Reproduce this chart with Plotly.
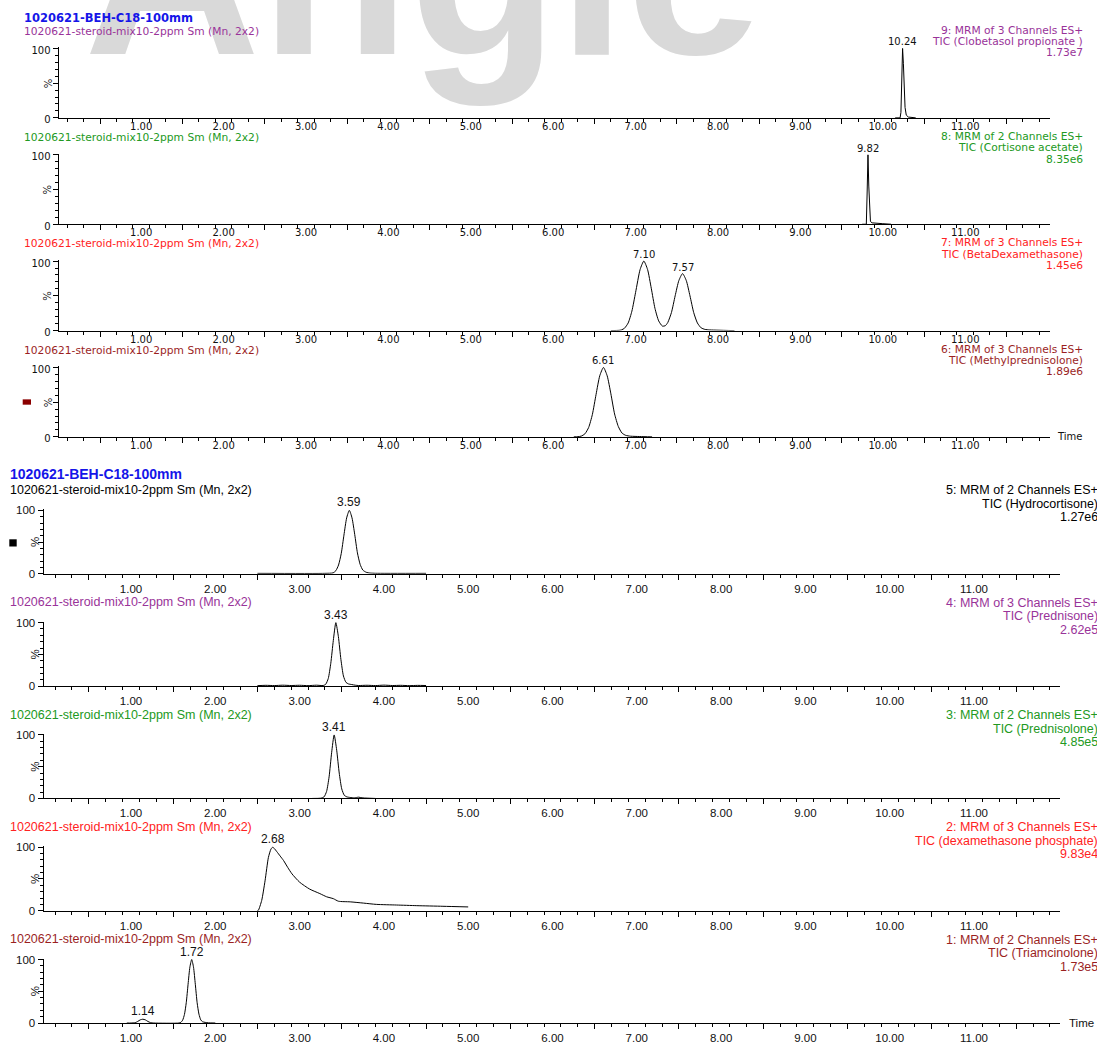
import plotly.graph_objects as go

W, H = 1097, 1049

# ---------------------------------------------------------------- data
RUN_TITLE = "1020621-BEH-C18-100mm"
SAMPLE_NAME = "1020621-steroid-mix10-2ppm Sm (Mn, 2x2)"
WATERMARK = "Angie"

TIME_TICKS = [1, 2, 3, 4, 5, 6, 7, 8, 9, 10, 11]
TIME_TICK_LABELS = ["1.00", "2.00", "3.00", "4.00", "5.00", "6.00",
                    "7.00", "8.00", "9.00", "10.00", "11.00"]
PCT_TICKS = [0, 50, 100]
PCT_TICK_LABELS = ["0", "", "100"]
PCT_MINOR_TICKS = [10, 20, 30, 40, 60, 70, 80, 90]

# 9: Clobetasol propionate
CH9_TIME = [10.15, 10.21, 10.22, 10.23, 10.24, 10.25, 10.26, 10.27, 10.285, 10.31, 10.40]
CH9_INT = [0, 0, 8, 55, 100, 78, 42, 15, 4, 1.2, 0]
CH9_PEAKS = [10.24]
CH9_INFO = ["9: MRM of 3 Channels ES+", "TIC (Clobetasol propionate )", "1.73e7"]

# 8: Cortisone acetate
CH8_TIME = [9.75, 9.80, 9.81, 9.82, 9.83, 9.84, 9.85, 9.87, 9.92, 10.00, 10.10]
CH8_INT = [0, 0, 45, 100, 55, 12, 4, 2, 1.2, 0.8, 0]
CH8_PEAKS = [9.82]
CH8_INFO = ["8: MRM of 2 Channels ES+", "TIC (Cortisone acetate)", "8.35e6"]

# 7: Betamethasone / Dexamethasone
CH7_TIME = [6.70, 6.80, 6.83, 6.865, 6.91, 6.955, 7.00, 7.055, 7.10, 7.145, 7.19, 7.235,
            7.28, 7.325, 7.36, 7.39, 7.435, 7.48, 7.525, 7.57, 7.615, 7.66, 7.705, 7.75,
            7.795, 7.84, 7.90, 8.00, 8.20]
CH7_INT = [0, 0.4, 1.1, 3.4, 11, 28, 55, 88, 100, 88, 61, 32,
           14, 6.5, 7, 11.5, 26, 50, 72, 82, 72, 50, 26, 11,
           4, 1.8, 1.0, 0.6, 0]
CH7_PEAKS = [7.10, 7.57]
CH7_INFO = ["7: MRM of 3 Channels ES+", "TIC (BetaDexamethasone)", "1.45e6"]

# 6: Methylprednisolone
CH6_TIME = [6.25, 6.30, 6.34, 6.385, 6.43, 6.475, 6.52, 6.565, 6.61, 6.655, 6.70, 6.745,
            6.79, 6.835, 6.88, 6.94, 7.05, 7.20]
CH6_INT = [0, 0.3, 1.1, 4.4, 13.5, 32, 61, 88, 100, 88, 62, 33,
           15, 5.5, 2.2, 1.0, 0.5, 0]
CH6_PEAKS = [6.61]
CH6_INFO = ["6: MRM of 3 Channels ES+", "TIC (Methylprednisolone)", "1.89e6"]

# 5: Hydrocortisone
CH5_TIME = [2.50, 3.30, 3.398, 3.43, 3.462, 3.494, 3.526, 3.558, 3.59, 3.622, 3.654,
            3.686, 3.718, 3.75, 3.79, 3.84, 3.90, 4.50]
CH5_INT = [0.8, 0.8, 1.6, 5, 14, 32, 61, 88, 100, 88, 62,
           33, 15, 6, 2.5, 1.3, 0.9, 0.8]
CH5_PEAKS = [3.59]
CH5_INFO = ["5: MRM of 2 Channels ES+", "TIC (Hydrocortisone)", "1.27e6"]

# 4: Prednisone
CH4_TIME = [2.50, 2.60, 2.70, 2.80, 2.90, 3.00, 3.10, 3.20, 3.28, 3.31, 3.34, 3.37,
            3.40, 3.43, 3.46, 3.49, 3.52, 3.55, 3.58, 3.62, 3.66, 3.70, 3.80, 3.90,
            4.00, 4.10, 4.20, 4.30, 4.40, 4.50]
CH4_INT = [0.8, 1.3, 0.9, 1.5, 1.0, 1.4, 0.8, 1.5, 1.0, 3, 12, 36,
           72, 100, 78, 42, 16, 6, 3.5, 2.5, 1.5, 1.0, 1.4, 0.9,
           1.6, 1.0, 1.3, 0.8, 1.2, 1.0]
CH4_PEAKS = [3.43]
CH4_INFO = ["4: MRM of 3 Channels ES+", "TIC (Prednisone)", "2.62e5"]

# 3: Prednisolone
CH3_TIME = [3.15, 3.25, 3.29, 3.32, 3.35, 3.38, 3.41, 3.44, 3.47, 3.50, 3.53,
            3.56, 3.60, 3.65, 3.70, 3.74, 3.80, 3.90]
CH3_INT = [0, 0.4, 2.5, 11, 34, 72, 100, 76, 40, 15, 5,
           2.5, 1.5, 1.0, 2.0, 1.0, 0.5, 0]
CH3_PEAKS = [3.41]
CH3_INFO = ["3: MRM of 2 Channels ES+", "TIC (Prednisolone)", "4.85e5"]

# 2: Dexamethasone phosphate
CH2_TIME = [2.50, 2.51, 2.55, 2.59, 2.63, 2.66, 2.68, 2.70, 2.73, 2.77, 2.81, 2.86,
            2.91, 3.00, 3.12, 3.24, 3.32, 3.40, 3.46, 3.60, 3.76, 3.91, 4.15, 4.39,
            4.70, 5.00]
CH2_INT = [0.3, 0.5, 16, 47, 84, 97, 100, 98, 93, 86, 79, 68,
           58, 45, 34, 27, 22, 19, 15, 14, 12, 10, 9, 8,
           7, 6]
CH2_PEAKS = [2.68]
CH2_INFO = ["2: MRM of 3 Channels ES+", "TIC (dexamethasone phosphate)", "9.83e4"]

# 1: Triamcinolone
CH1_TIME = [0.95, 1.00, 1.05, 1.08, 1.11, 1.14, 1.17, 1.20, 1.23, 1.27, 1.57, 1.591,
            1.6125, 1.634, 1.6555, 1.677, 1.6985, 1.72, 1.7415, 1.763, 1.7845, 1.806,
            1.8275, 1.849, 1.88, 1.92, 2.00]
CH1_INT = [0, 0, 0.6, 2.5, 5, 6, 5, 2.5, 0.7, 0, 0, 1.1,
           4.4, 13.5, 32, 61, 88, 100, 88, 61, 32, 14,
           5, 2, 1, 0.3, 0]
CH1_PEAKS = [1.14, 1.72]
CH1_INFO = ["1: MRM of 2 Channels ES+", "TIC (Triamcinolone)", "1.73e5"]

# ---------------------------------------------------------------- styles
PURPLE = "#993399"
GREEN = "#229922"
RED = "#ff2222"
DARKRED = "#9b1f1f"
BLACK = "#000000"
BLUE = "#1515e8"

GROUPS = {
    "top": dict(font="DejaVu Sans", text_size=10.7, tick_size=10, peak_size=10,
                x_left=58.5, x_right=1050.0, px_t0=58.8, px_per_min=82.4,
                title_x=22, title_y=13.0, title_size=11.5,
                sub_x=22, sub_dy=-17.5, info_right=1085, info_dy=-7.0, info_step=11.5,
                pct_x=48, time_x=1055, standoff=-1, yshift=2),
    "bottom": dict(font="Liberation Sans", text_size=12.5, tick_size=11.5, peak_size=12,
                   x_left=43.5, x_right=1060.0, px_t0=46.7, px_per_min=84.3,
                   title_x=8, title_y=475, title_size=14,
                   sub_x=8, sub_dy=-20.5, info_right=1100, info_dy=-6.5, info_step=13.7,
                   pct_x=35, time_x=1067, standoff=4, yshift=0),
}

# panel order from top to bottom; y100 / y0 are pixel rows of the 100 % and 0 % levels
CHANNELS = [
    dict(t=CH9_TIME, v=CH9_INT, peaks=CH9_PEAKS, info=CH9_INFO, color=PURPLE, group="top", y100=44.0, y0=114.3, spline=False),
    dict(t=CH8_TIME, v=CH8_INT, peaks=CH8_PEAKS, info=CH8_INFO, color=GREEN, group="top", y100=151.7, y0=222.0, spline=False),
    dict(t=CH7_TIME, v=CH7_INT, peaks=CH7_PEAKS, info=CH7_INFO, color=RED, group="top", y100=259.3, y0=329.7, spline=True),
    dict(t=CH6_TIME, v=CH6_INT, peaks=CH6_PEAKS, info=CH6_INFO, color=DARKRED, group="top", y100=367.0, y0=437.3, spline=True),
    dict(t=CH5_TIME, v=CH5_INT, peaks=CH5_PEAKS, info=CH5_INFO, color=BLACK, group="bottom", y100=511.7, y0=576.0, spline=True),
    dict(t=CH4_TIME, v=CH4_INT, peaks=CH4_PEAKS, info=CH4_INFO, color=PURPLE, group="bottom", y100=625.4, y0=689.7, spline=True),
    dict(t=CH3_TIME, v=CH3_INT, peaks=CH3_PEAKS, info=CH3_INFO, color=GREEN, group="bottom", y100=739.1, y0=803.4, spline=True),
    dict(t=CH2_TIME, v=CH2_INT, peaks=CH2_PEAKS, info=CH2_INFO, color=RED, group="bottom", y100=852.8, y0=917.1, spline=True),
    dict(t=CH1_TIME, v=CH1_INT, peaks=CH1_PEAKS, info=CH1_INFO, color=DARKRED, group="bottom", y100=966.5, y0=1030.8, spline=True),
]

Y_TOP = 101.5  # a little headroom so peak apexes are not clipped

# tick positions on the time axis
half_ticks = [k + 0.5 for k in range(12)]
minor_ticks = [round(0.1 + 0.2 * k, 1) for k in range(61)]
minor_ticks = [m for m in minor_ticks if m not in half_ticks]


def px(x):
    return x / W


def py(y):
    return 1 - y / H


def note(text, x_px, y_px, font, **kw):
    d = dict(text=text, x=px(x_px), y=py(y_px), xref="paper", yref="paper",
             showarrow=False, font=font, xanchor="left", yanchor="middle")
    d.update(kw)
    return d


fig = go.Figure()
layout = {}
annotations = []
shapes = []

# faint watermark behind everything
shapes.append(dict(
    type="rect", xref="paper", yref="paper", layer="below",
    x0=px(81), x1=px(900), y0=py(79), y1=py(-240),
    line=dict(width=0), fillcolor="rgba(0,0,0,0)",
    label=dict(text="<b>" + WATERMARK + "</b>", textposition="bottom left", padding=0,
               font=dict(family="Liberation Sans", size=244, color="#d9d9d9")),
))

for key, g in GROUPS.items():
    annotations.append(note("<b>" + RUN_TITLE + "</b>", g["title_x"], g["title_y"],
                            dict(family=g["font"], size=g["title_size"], color=BLUE)))

n_panels = len(CHANNELS)
for i, ch in enumerate(CHANNELS, start=1):
    g = GROUPS[ch["group"]]
    xn = "x" if i == 1 else f"x{i}"
    yn = "y" if i == 1 else f"y{i}"
    xk = "xaxis" if i == 1 else f"xaxis{i}"
    yk = "yaxis" if i == 1 else f"yaxis{i}"
    ov = i + n_panels
    t_range = [(g["x_left"] - g["px_t0"]) / g["px_per_min"],
               (g["x_right"] - g["px_t0"]) / g["px_per_min"]]
    x_dom = [px(g["x_left"]), px(g["x_right"])]
    span = ch["y0"] - ch["y100"]
    y_dom = [py(ch["y0"]), py(ch["y100"] - span * (Y_TOP - 100) / 100)]
    tick_font = dict(family=g["font"], size=g["tick_size"], color="#111111")

    line = dict(color="black", width=1)
    if ch["spline"]:
        line.update(shape="spline", smoothing=0.6)
    fig.add_trace(go.Scatter(x=ch["t"], y=ch["v"], mode="lines", line=line,
                             xaxis=xn, yaxis=yn, showlegend=False, hoverinfo="skip"))
    # empty trace so the half-minute tick overlay axis is drawn
    fig.add_trace(go.Scatter(x=[], y=[], mode="lines", xaxis=f"x{ov}", yaxis=yn,
                             showlegend=False, hoverinfo="skip"))

    layout[xk] = dict(
        domain=x_dom, range=t_range, anchor=yn, showline=True, linecolor="black",
        linewidth=1, showgrid=False, zeroline=False, tickmode="array",
        tickvals=TIME_TICKS, ticktext=TIME_TICK_LABELS, ticks="outside", ticklen=0,
        tickfont=tick_font, ticklabelstandoff=g["standoff"],
        minor=dict(tickmode="array", tickvals=minor_ticks, ticks="outside",
                   ticklen=3, tickcolor="black", showgrid=False),
        fixedrange=True,
    )
    layout[f"xaxis{ov}"] = dict(
        overlaying=xn, anchor=yn, range=t_range, side="bottom", showline=False,
        showgrid=False, zeroline=False, tickmode="array", tickvals=half_ticks,
        ticks="outside", ticklen=5, tickcolor="black", showticklabels=False,
        fixedrange=True,
    )
    layout[yk] = dict(
        domain=y_dom, range=[0, Y_TOP], anchor=xn, showline=True, linecolor="black",
        linewidth=1, showgrid=False, zeroline=False, tickmode="array",
        tickvals=PCT_TICKS, ticktext=PCT_TICK_LABELS, ticks="outside", ticklen=5,
        tickcolor="black", tickfont=tick_font, ticklabelshift=g["yshift"],
        minor=dict(tickmode="array", tickvals=PCT_MINOR_TICKS, ticks="outside",
                   ticklen=3, tickcolor="black", showgrid=False),
        fixedrange=True,
    )

    # "%" label beside the axis
    annotations.append(dict(text="%", x=px(g["pct_x"]), y=50, xref="paper", yref=yn,
                            showarrow=False, textangle=-90, xanchor="center",
                            yanchor="middle", font=tick_font))

    # sample line at the left, channel description at the right
    text_font = dict(family=g["font"], size=g["text_size"], color=ch["color"])
    annotations.append(note(SAMPLE_NAME, g["sub_x"], ch["y100"] + g["sub_dy"], text_font))
    for k, txt in enumerate(ch["info"]):
        y_line = ch["y100"] + g["info_dy"] + (k - 1) * g["info_step"]
        annotations.append(note(txt, g["info_right"], y_line, text_font, xanchor="right"))

    # retention-time labels sit on the apex of each peak
    for rt in ch["peaks"]:
        apex = ch["v"][ch["t"].index(rt)]
        annotations.append(dict(text=f"{rt:.2f}", x=rt, y=apex, xref=xn, yref=yn,
                                showarrow=False, xanchor="center", yanchor="bottom",
                                yshift=-1,
                                font=dict(family=g["font"], size=g["peak_size"],
                                          color="#111111")))

# "Time" at the end of the lowest axis of each block
for ch_idx, key in ((3, "top"), (8, "bottom")):
    g = GROUPS[key]
    annotations.append(note("Time", g["time_x"], CHANNELS[ch_idx]["y0"],
                            dict(family=g["font"], size=g["tick_size"], color="#111111")))

# small colour keys at the left
shapes.append(dict(type="rect", xref="paper", yref="paper", x0=px(22.7), x1=px(31),
                   y0=py(404.7), y1=py(399.3), fillcolor="#8b0000", line=dict(width=0)))
shapes.append(dict(type="rect", xref="paper", yref="paper", x0=px(9.3), x1=px(16.7),
                   y0=py(548.3), y1=py(541), fillcolor="#000000", line=dict(width=0)))

fig.update_layout(
    width=W, height=H, margin=dict(l=0, r=0, t=0, b=0),
    paper_bgcolor="white", plot_bgcolor="rgba(0,0,0,0)",
    annotations=annotations, shapes=shapes, showlegend=False,
    **layout,
)

fig.write_html("out.html")
